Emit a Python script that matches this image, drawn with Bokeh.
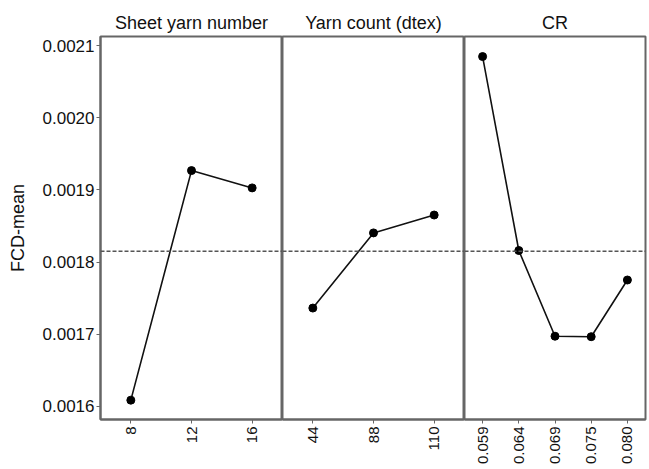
import math
from bokeh.plotting import figure
from bokeh.layouts import row
from bokeh.models import Range1d, FixedTicker, PrintfTickFormatter, Span
from bokeh.embed import file_html
from bokeh.resources import INLINE

# ---- data ----
panel_titles = ["Sheet yarn number", "Yarn count (dtex)", "CR"]
sheet_levels = ["8", "12", "16"]
sheet_means = [0.0016085, 0.0019268, 0.0019028]
yarn_levels = ["44", "88", "110"]
yarn_means = [0.0017362, 0.0018404, 0.0018652]
cr_levels = ["0.059", "0.064", "0.069", "0.075", "0.080"]
cr_means = [0.0020849, 0.0018160, 0.0016972, 0.0016965, 0.0017751]
overall_mean = 0.001815
y_ticks = [0.0016, 0.0017, 0.0018, 0.0019, 0.0020, 0.0021]
y_label = "FCD-mean"

FONT = "Liberation Sans"
FRAME_COLOR = "#666666"
y_range = Range1d(0.0015817, 0.0021127)

panels = [
    (panel_titles[0], sheet_levels, sheet_means),
    (panel_titles[1], yarn_levels, yarn_means),
    (panel_titles[2], cr_levels, cr_means),
]

figs = []
for i, (title, levels, means) in enumerate(panels):
    left = 100 if i == 0 else 0
    right = 2 if i == 2 else 0
    w = left + (181 if i == 2 else 182) + right
    p = figure(
        x_range=levels, y_range=y_range, width=w, height=467,
        output_backend="svg", toolbar_location=None, tools="",
        y_axis_location="left" if i == 0 else None,
        min_border=0, min_border_left=left, min_border_right=right,
        min_border_top=36, min_border_bottom=0,
    )
    p.title.text = title
    p.title.align = "center"
    p.title.text_font = FONT
    p.title.text_font_size = "18px"
    p.title.text_font_style = "normal"
    p.title.text_color = "#111111"
    p.title.standoff = 8
    p.background_fill_color = "white"
    p.border_fill_color = "white"
    p.outline_line_color = FRAME_COLOR
    p.outline_line_width = 2
    p.xgrid.visible = False
    p.ygrid.visible = False

    xa = p.xaxis[0]
    xa.axis_line_color = FRAME_COLOR
    xa.axis_line_width = 2
    xa.major_tick_line_color = FRAME_COLOR
    xa.major_tick_in = 0
    xa.major_tick_out = 4
    xa.minor_tick_line_color = None
    xa.major_label_orientation = math.pi / 2
    xa.major_label_text_font = FONT
    xa.major_label_text_font_size = "15px"
    xa.major_label_text_color = "#111111"
    xa.major_label_standoff = 3

    if i == 0:
        ya = p.yaxis[0]
        ya.ticker = FixedTicker(ticks=y_ticks)
        ya.formatter = PrintfTickFormatter(format="%.4f")
        ya.axis_line_color = FRAME_COLOR
        ya.axis_line_width = 2
        ya.major_tick_line_color = FRAME_COLOR
        ya.major_tick_in = 0
        ya.major_tick_out = 4
        ya.minor_tick_line_color = None
        ya.major_label_text_font = FONT
        ya.major_label_text_font_size = "17px"
        ya.major_label_text_color = "#111111"
        ya.major_label_standoff = 2
        ya.axis_label = y_label
        ya.axis_label_text_font = FONT
        ya.axis_label_text_font_size = "18px"
        ya.axis_label_text_font_style = "normal"
        ya.axis_label_text_color = "#111111"
        ya.axis_label_standoff = 12

    p.add_layout(Span(location=overall_mean, dimension="width",
                      line_color="#555555", line_dash="4 2", line_width=1.5))
    p.line(x=levels, y=means, line_color="#111111", line_width=1.6)
    p.scatter(x=levels, y=means, size=8, fill_color="black", line_color="black")
    figs.append(p)

layout = row(*figs)
open("out.html", "w").write(file_html(layout, INLINE))
